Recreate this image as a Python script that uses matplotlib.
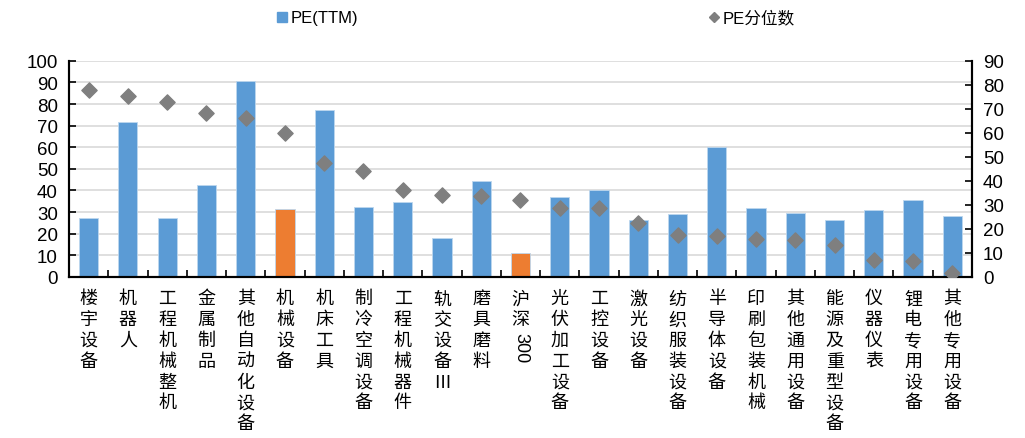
import numpy as np
import matplotlib.pyplot as plt
from matplotlib.ticker import MultipleLocator

plt.rcParams['font.family'] = ['Liberation Sans', 'Noto Sans CJK SC']

names = ['楼宇设备', '机器人', '工程机械整机', '金属制品', '其他自动化设备', '机械设备',
         '机床工具', '制冷空调设备', '工程机械器件', '轨交设备Ⅲ', '磨具磨料', '沪深300',
         '光伏加工设备', '工控设备', '激光设备', '纺织服装设备', '半导体设备', '印刷包装机械',
         '其他通用设备', '能源及重型设备', '仪器仪表', '锂电专用设备', '其他专用设备']
pe_ttm = [27.2, 71.7, 27.1, 42.5, 90.5, 31.4, 77.2, 32.5, 34.8, 18.2, 44.3, 11.2,
          36.8, 40.2, 26.3, 29.1, 60.0, 31.8, 29.5, 26.3, 30.9, 35.8, 28.3]
pe_pct = [78.0, 75.2, 72.7, 68.1, 66.2, 59.8, 47.4, 44.3, 36.1, 34.2, 33.8, 32.1,
          28.8, 28.5, 22.6, 17.3, 16.9, 15.8, 15.2, 13.4, 7.1, 6.5, 1.8]
highlight = ['机械设备', '沪深300']

blue = '#5B9BD5'
orange = '#ED7D31'
grey = '#7F7F7F'

x = np.arange(len(names))
colors = [orange if n in highlight else blue for n in names]

fig = plt.figure(figsize=(10.25, 4.39), dpi=100)
ax = fig.add_axes([0.0673, 0.367, 0.881, 0.492])

ax.bar(x, pe_ttm, width=0.49, color=colors, edgecolor='#BDD7EE', linewidth=0.6,
       zorder=2)
ax.set_ylim(0, 100)
ax.set_xlim(-0.5, len(names) - 0.5)
ax.yaxis.set_major_locator(MultipleLocator(10))
ax.grid(axis='y', color='#D9D9D9', linewidth=1.2, zorder=0)
ax.set_axisbelow(True)

ax2 = ax.twinx()
ax2.scatter(x, pe_pct, marker='D', s=60, color=grey, zorder=3)
ax2.set_ylim(0, 90)
ax2.yaxis.set_major_locator(MultipleLocator(10))

for a in (ax, ax2):
    a.spines['top'].set_visible(False)
    for s in ('left', 'right', 'bottom'):
        a.spines[s].set_linewidth(1.5)
        a.spines[s].set_color('black')

ax.tick_params(axis='y', direction='in', length=5, width=1.2, labelsize=13.5, pad=8)
ax2.tick_params(axis='y', direction='in', length=5, width=1.2, labelsize=13.5, pad=8)

# category labels stacked vertically, ticks sit between categories
labels = []
for n in names:
    if n == '沪深300':
        labels.append('沪\n深')
    else:
        labels.append('\n'.join(n))
ax.set_xticks(x)
ax.set_xticklabels(labels, fontsize=13, linespacing=1.2, va='top',
                   family=['Noto Sans CJK SC', 'DejaVu Sans'])
ax.set_xticks(np.arange(-0.5, len(names)), minor=True)
ax.tick_params(axis='x', which='major', length=0, pad=9)
ax.tick_params(axis='x', which='minor', direction='in', length=5, width=1.2)

i = names.index('沪深300')
ax.annotate('300', xy=(x[i], 0), xycoords=('data', 'axes fraction'),
            xytext=(0, -40), textcoords='offset points', rotation=-90,
            ha='center', va='top', fontsize=13)

# legend at the top
h1 = plt.Line2D([], [], marker='s', linestyle='none', color=blue, markersize=7)
h2 = plt.Line2D([], [], marker='D', linestyle='none', color=grey, markersize=5)
fig.legend([h1, h2], ['PE(TTM)', 'PE分位数'], loc='upper center',
           bbox_to_anchor=(0.522, 1.01), ncol=2, frameon=False,
           columnspacing=21, handletextpad=0.1, handlelength=0.8,
           prop={'family': ['Liberation Sans', 'Noto Sans CJK SC'], 'size': 12})

fig.savefig('out.png', dpi=100)
